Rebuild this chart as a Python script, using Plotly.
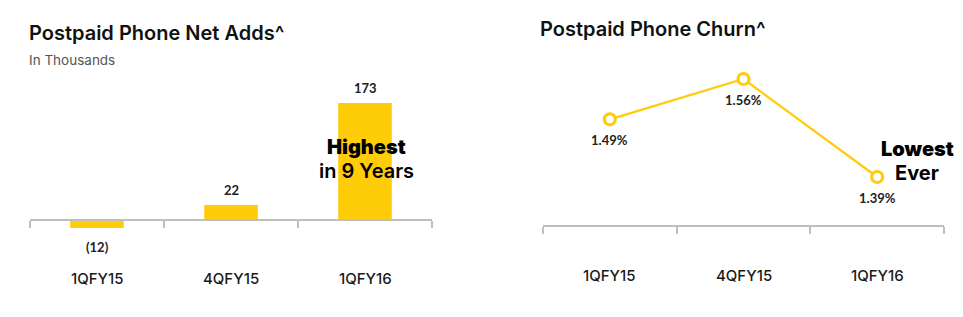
import plotly.graph_objects as go

# ---- data ----
categories = ["1QFY15", "4QFY15", "1QFY16"]
net_adds = [-12, 22, 173]
net_adds_labels = ["(12)", "22", "173"]
churn = [1.49, 1.56, 1.39]
churn_labels = ["1.49%", "1.56%", "1.39%"]

YELLOW = "#FFCC0A"
AXIS = "#BFBFBF"
W, H = 963, 317

def py(pix):
    return 1 - pix / H

def px(pix):
    return pix / W

fig = go.Figure()

fig.add_trace(go.Bar(x=categories, y=net_adds, marker=dict(color=YELLOW, line=dict(width=0)),
                     width=0.4, xaxis="x", yaxis="y", hoverinfo="skip"))
fig.add_trace(go.Scatter(x=categories, y=churn, mode="lines+markers", xaxis="x2", yaxis="y2",
                         line=dict(color=YELLOW, width=2.2),
                         marker=dict(symbol="circle", size=11, color="white",
                                     line=dict(color=YELLOW, width=3.2)),
                         hoverinfo="skip"))

label_font = dict(family="Lato, Open Sans, sans-serif", size=13, color="#222222", weight="bold")
cat_font = dict(family="Inter, Roboto, sans-serif", size=15, color="#1a1a1a", weight=500)

def ann(**kw):
    kw.setdefault("showarrow", False)
    kw.setdefault("xanchor", "center")
    kw.setdefault("yanchor", "middle")
    return kw

annotations = []
for c, v, t in zip(categories, net_adds, net_adds_labels):
    annotations.append(ann(x=c, y=v, xref="x", yref="y", text=t,
                           yshift=15 if v >= 0 else -19, font=label_font))
for c, v, t in zip(categories, churn, churn_labels):
    annotations.append(ann(x=c, y=v, xref="x2", yref="y2", text=t,
                           yshift=-21, font=label_font))
for c in categories:
    annotations.append(ann(x=c, y=py(278), xref="x", yref="paper", text=c, font=cat_font))
    annotations.append(ann(x=c, y=py(275), xref="x2", yref="paper", text=c, font=cat_font))

title_font = dict(family="Inter, Roboto, sans-serif", size=20, color="#111111", weight=600)
annotations += [
    ann(x=px(27), y=py(33), xref="paper", yref="paper", xanchor="left", text="Postpaid Phone Net Adds^",
        font=title_font),
    ann(x=px(27), y=py(60), xref="paper", yref="paper", xanchor="left", text="In Thousands",
        font=dict(family="Inter, Roboto, sans-serif", size=13.5, color="#555555")),
    ann(x=px(538), y=py(29), xref="paper", yref="paper", xanchor="left", text="Postpaid Phone Churn^",
        font=title_font),
    ann(x=px(366), y=py(147), xref="paper", yref="paper", text="Highest",
        font=dict(family="Inter, sans-serif", size=20, color="#000000", weight=900)),
    ann(x=px(366), y=py(171), xref="paper", yref="paper", text="in 9 Years",
        font=dict(family="Inter, sans-serif", size=20, color="#000000", weight=600)),
    ann(x=px(917), y=py(149), xref="paper", yref="paper", text="Lowest",
        font=dict(family="Inter, sans-serif", size=20, color="#000000", weight=900)),
    ann(x=px(917), y=py(173), xref="paper", yref="paper", text="Ever",
        font=dict(family="Inter, sans-serif", size=20, color="#000000", weight=700)),
]

# left axes: zero at pixel 220, 173 at pixel 103
k1 = (220 - 103) / 173.0
top1, bot1 = 95, 240
yr1 = [-(bot1 - 220) / k1, (220 - top1) / k1]
# right axes: 1.39 at pixel 177, 1.56 at pixel 79
k2 = (177 - 79) / 0.17
top2, bot2 = 60, 240
yr2 = [1.39 - (bot2 - 177) / k2, 1.39 + (177 - top2) / k2]

axis_common = dict(type="category", showline=True, linecolor=AXIS, linewidth=1.5,
                   ticks="outside", tickson="boundaries", ticklen=7, tickcolor=AXIS, tickwidth=1.5,
                   showticklabels=False, showgrid=False, zeroline=False, fixedrange=True,
                   range=[-0.5, len(categories) - 0.5],
                   categoryorder="array", categoryarray=categories)

fig.update_layout(
    width=W, height=H, margin=dict(l=0, r=0, t=0, b=0),
    paper_bgcolor="white", plot_bgcolor="white", showlegend=False,
    xaxis=dict(domain=[px(30), px(432)], anchor="free", position=py(220), **axis_common),
    yaxis=dict(domain=[py(bot1), py(top1)], range=yr1, visible=False, fixedrange=True),
    xaxis2=dict(domain=[px(543), px(944)], anchor="free", position=py(226), **axis_common),
    yaxis2=dict(domain=[py(bot2), py(top2)], range=yr2, visible=False, fixedrange=True, anchor="x2"),
    annotations=annotations,
)

fig.write_html("out.html")
